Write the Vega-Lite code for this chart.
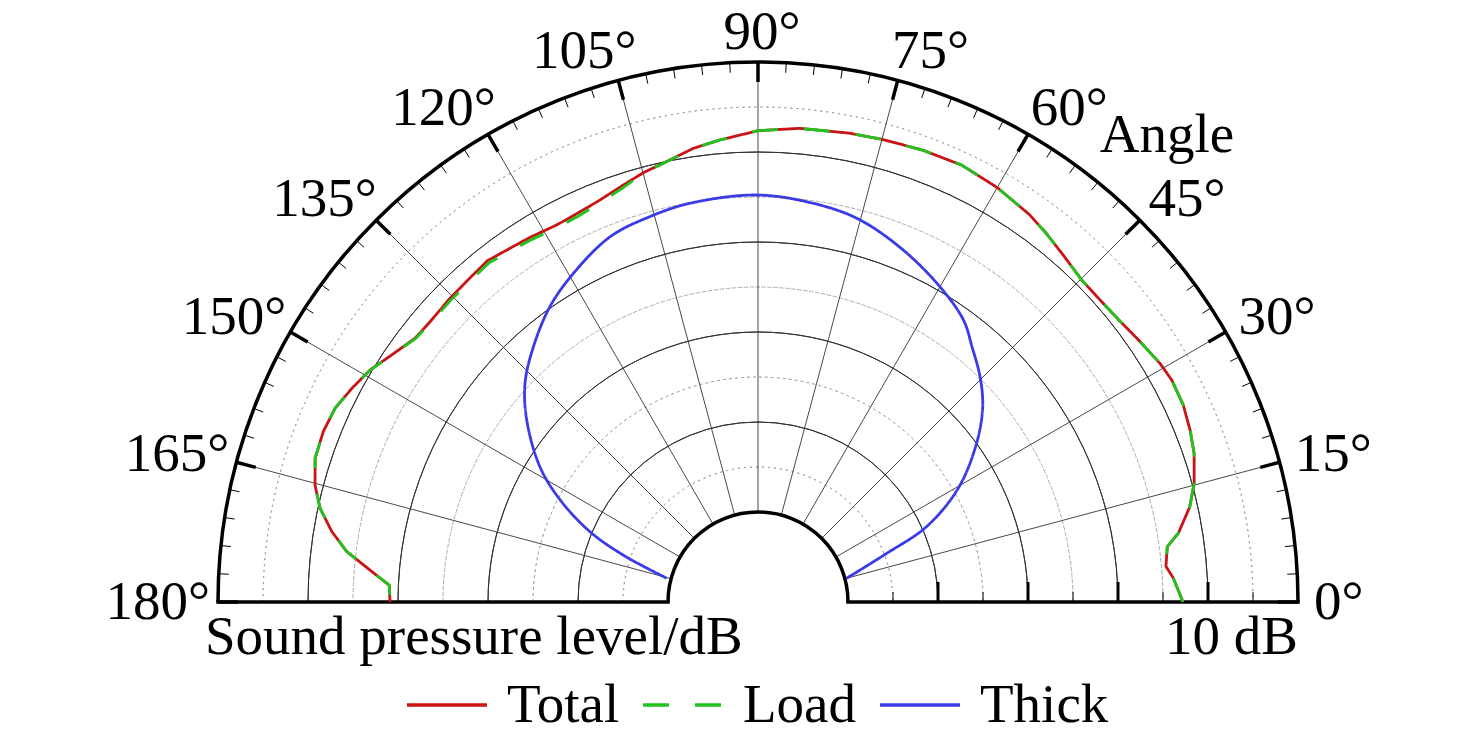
{
  "$schema": "https://vega.github.io/schema/vega-lite/v6.json",
  "width": 1476,
  "height": 737,
  "autosize": {"type": "none"},
  "padding": 0,
  "background": "white",
  "config": {"view": {"stroke": null}, "text": {"font": "'Liberation Serif', 'Times New Roman', 'DejaVu Serif', serif", "fontSize": 55, "color": "black"}},
  "datasets": {
    "angles": [
      {"angle": 0}, {"angle": 3}, {"angle": 6}, {"angle": 9}, {"angle": 12}, {"angle": 15}, {"angle": 18}, {"angle": 21}, {"angle": 24}, {"angle": 27},
      {"angle": 30}, {"angle": 33}, {"angle": 36}, {"angle": 39}, {"angle": 42}, {"angle": 45}, {"angle": 48}, {"angle": 51}, {"angle": 54}, {"angle": 57},
      {"angle": 60}, {"angle": 63}, {"angle": 66}, {"angle": 69}, {"angle": 72}, {"angle": 75}, {"angle": 78}, {"angle": 81}, {"angle": 84}, {"angle": 87},
      {"angle": 90}, {"angle": 93}, {"angle": 96}, {"angle": 99}, {"angle": 102}, {"angle": 105}, {"angle": 108}, {"angle": 111}, {"angle": 114}, {"angle": 117},
      {"angle": 120}, {"angle": 123}, {"angle": 126}, {"angle": 129}, {"angle": 132}, {"angle": 135}, {"angle": 138}, {"angle": 141}, {"angle": 144}, {"angle": 147},
      {"angle": 150}, {"angle": 153}, {"angle": 156}, {"angle": 159}, {"angle": 162}, {"angle": 165}, {"angle": 168}, {"angle": 171}, {"angle": 174}, {"angle": 177},
      {"angle": 180}
    ],
    "rings": [
      {"spl": -25}, {"spl": -20}, {"spl": -15}, {"spl": -10}, {"spl": -5}, {"spl": 0}, {"spl": 5}, {"spl": 10}, {"spl": 15}
    ],
    "curves": [
      {"series": "Total", "angle": 0, "spl": 7.22},
      {"series": "Total", "angle": 3.3, "spl": 6.22},
      {"series": "Total", "angle": 5, "spl": 5.5},
      {"series": "Total", "angle": 7.7, "spl": 5.89},
      {"series": "Total", "angle": 9.3, "spl": 7.33},
      {"series": "Total", "angle": 12.4, "spl": 9.11},
      {"series": "Total", "angle": 15.2, "spl": 10.22},
      {"series": "Total", "angle": 18.8, "spl": 11.19},
      {"series": "Total", "angle": 21.7, "spl": 11.67},
      {"series": "Total", "angle": 24.9, "spl": 12.08},
      {"series": "Total", "angle": 28.2, "spl": 12.17},
      {"series": "Total", "angle": 30.7, "spl": 11.94},
      {"series": "Total", "angle": 34.6, "spl": 11.33},
      {"series": "Total", "angle": 38, "spl": 10.89},
      {"series": "Total", "angle": 41.1, "spl": 10.71},
      {"series": "Total", "angle": 44.8, "spl": 10.73},
      {"series": "Total", "angle": 48.6, "spl": 11.33},
      {"series": "Total", "angle": 52, "spl": 12.0},
      {"series": "Total", "angle": 55, "spl": 12.56},
      {"series": "Total", "angle": 60, "spl": 13.17},
      {"series": "Total", "angle": 65, "spl": 13.56},
      {"series": "Total", "angle": 70, "spl": 13.44},
      {"series": "Total", "angle": 75, "spl": 13.22},
      {"series": "Total", "angle": 79, "spl": 13.07},
      {"series": "Total", "angle": 85, "spl": 12.83},
      {"series": "Total", "angle": 90, "spl": 12.37},
      {"series": "Total", "angle": 94.7, "spl": 11.51},
      {"series": "Total", "angle": 98.1, "spl": 10.92},
      {"series": "Total", "angle": 101.3, "spl": 10.08},
      {"series": "Total", "angle": 105, "spl": 9.36},
      {"series": "Total", "angle": 107.9, "spl": 8.69},
      {"series": "Total", "angle": 111.5, "spl": 7.99},
      {"series": "Total", "angle": 115, "spl": 7.61},
      {"series": "Total", "angle": 118.1, "spl": 7.49},
      {"series": "Total", "angle": 122, "spl": 7.78},
      {"series": "Total", "angle": 125, "spl": 8.0},
      {"series": "Total", "angle": 128.4, "spl": 8.39},
      {"series": "Total", "angle": 131.7, "spl": 8.17},
      {"series": "Total", "angle": 135.4, "spl": 8.06},
      {"series": "Total", "angle": 139.5, "spl": 7.93},
      {"series": "Total", "angle": 142.4, "spl": 8.07},
      {"series": "Total", "angle": 146, "spl": 9.09},
      {"series": "Total", "angle": 149.1, "spl": 10.22},
      {"series": "Total", "angle": 152.3, "spl": 11.0},
      {"series": "Total", "angle": 155.4, "spl": 11.69},
      {"series": "Total", "angle": 158.6, "spl": 11.88},
      {"series": "Total", "angle": 162, "spl": 11.74},
      {"series": "Total", "angle": 165.2, "spl": 10.91},
      {"series": "Total", "angle": 167.9, "spl": 9.77},
      {"series": "Total", "angle": 170.6, "spl": 8.01},
      {"series": "Total", "angle": 173, "spl": 6.04},
      {"series": "Total", "angle": 175.3, "spl": 3.26},
      {"series": "Total", "angle": 177.4, "spl": 1.01},
      {"series": "Total", "angle": 180, "spl": 0.89},
      {"series": "Load", "angle": 0, "spl": 7.22},
      {"series": "Load", "angle": 3.3, "spl": 6.22},
      {"series": "Load", "angle": 5, "spl": 5.5},
      {"series": "Load", "angle": 7.7, "spl": 5.89},
      {"series": "Load", "angle": 9.3, "spl": 7.33},
      {"series": "Load", "angle": 12.4, "spl": 9.11},
      {"series": "Load", "angle": 15.2, "spl": 10.22},
      {"series": "Load", "angle": 18.8, "spl": 11.19},
      {"series": "Load", "angle": 21.7, "spl": 11.67},
      {"series": "Load", "angle": 24.9, "spl": 12.08},
      {"series": "Load", "angle": 28.2, "spl": 12.17},
      {"series": "Load", "angle": 30.7, "spl": 11.94},
      {"series": "Load", "angle": 34.6, "spl": 11.33},
      {"series": "Load", "angle": 38, "spl": 10.89},
      {"series": "Load", "angle": 41.1, "spl": 10.71},
      {"series": "Load", "angle": 44.8, "spl": 10.73},
      {"series": "Load", "angle": 48.6, "spl": 11.33},
      {"series": "Load", "angle": 52, "spl": 12.0},
      {"series": "Load", "angle": 55, "spl": 12.56},
      {"series": "Load", "angle": 60, "spl": 13.17},
      {"series": "Load", "angle": 65, "spl": 13.56},
      {"series": "Load", "angle": 70, "spl": 13.44},
      {"series": "Load", "angle": 75, "spl": 13.22},
      {"series": "Load", "angle": 79, "spl": 13.07},
      {"series": "Load", "angle": 85, "spl": 12.83},
      {"series": "Load", "angle": 90, "spl": 12.37},
      {"series": "Load", "angle": 94.7, "spl": 11.51},
      {"series": "Load", "angle": 98.1, "spl": 10.92},
      {"series": "Load", "angle": 101.3, "spl": 10.06},
      {"series": "Load", "angle": 105, "spl": 9.3},
      {"series": "Load", "angle": 107.9, "spl": 8.45},
      {"series": "Load", "angle": 111.5, "spl": 7.7},
      {"series": "Load", "angle": 115, "spl": 7.3},
      {"series": "Load", "angle": 118.1, "spl": 7.2},
      {"series": "Load", "angle": 122, "spl": 7.48},
      {"series": "Load", "angle": 125, "spl": 7.7},
      {"series": "Load", "angle": 128.4, "spl": 8.1},
      {"series": "Load", "angle": 131.7, "spl": 7.9},
      {"series": "Load", "angle": 135.4, "spl": 7.85},
      {"series": "Load", "angle": 139.5, "spl": 7.8},
      {"series": "Load", "angle": 142.4, "spl": 8.0},
      {"series": "Load", "angle": 146, "spl": 9.05},
      {"series": "Load", "angle": 149.1, "spl": 10.2},
      {"series": "Load", "angle": 152.3, "spl": 11.0},
      {"series": "Load", "angle": 155.4, "spl": 11.69},
      {"series": "Load", "angle": 158.6, "spl": 11.88},
      {"series": "Load", "angle": 162, "spl": 11.74},
      {"series": "Load", "angle": 165.2, "spl": 10.91},
      {"series": "Load", "angle": 167.9, "spl": 9.77},
      {"series": "Load", "angle": 170.6, "spl": 8.01},
      {"series": "Load", "angle": 173, "spl": 6.04},
      {"series": "Load", "angle": 175.3, "spl": 3.26},
      {"series": "Load", "angle": 177.4, "spl": 1.01},
      {"series": "Load", "angle": 180, "spl": 0.89},
      {"series": "Thick", "angle": 15, "spl": -29.8},
      {"series": "Thick", "angle": 20.7, "spl": -24.71},
      {"series": "Thick", "angle": 24.1, "spl": -19.48},
      {"series": "Thick", "angle": 29.6, "spl": -14.41},
      {"series": "Thick", "angle": 36, "spl": -9.98},
      {"series": "Thick", "angle": 41, "spl": -6.92},
      {"series": "Thick", "angle": 45.4, "spl": -4.86},
      {"series": "Thick", "angle": 50, "spl": -3.0},
      {"series": "Thick", "angle": 53.9, "spl": -1.24},
      {"series": "Thick", "angle": 60, "spl": 0.44},
      {"series": "Thick", "angle": 67.6, "spl": 2.31},
      {"series": "Thick", "angle": 75, "spl": 3.93},
      {"series": "Thick", "angle": 81.1, "spl": 4.64},
      {"series": "Thick", "angle": 90, "spl": 5.22},
      {"series": "Thick", "angle": 99.7, "spl": 4.94},
      {"series": "Thick", "angle": 105.7, "spl": 4.47},
      {"series": "Thick", "angle": 112, "spl": 3.79},
      {"series": "Thick", "angle": 119.3, "spl": 1.89},
      {"series": "Thick", "angle": 125.2, "spl": 0.13},
      {"series": "Thick", "angle": 131.3, "spl": -2.21},
      {"series": "Thick", "angle": 136.8, "spl": -4.49},
      {"series": "Thick", "angle": 141.8, "spl": -7.3},
      {"series": "Thick", "angle": 148.2, "spl": -11.49},
      {"series": "Thick", "angle": 152.7, "spl": -15.26},
      {"series": "Thick", "angle": 157.3, "spl": -19.77},
      {"series": "Thick", "angle": 160.8, "spl": -24.14},
      {"series": "Thick", "angle": 165.4, "spl": -29.52}
    ]
  },
  "layer": [
    {
      "data": {"name": "rings"},
      "transform": [{"filter": "datum.spl % 10 != 0"}],
      "mark": {"type": "arc", "filled": false, "stroke": "#a0a0a0", "strokeWidth": 1, "strokeDash": [2, 4], "theta": -1.5708, "theta2": 1.5708},
      "encoding": {
        "x": {"datum": 0, "type": "quantitative", "scale": {"domain": [-758, 718], "nice": false, "zero": false}, "axis": null},
        "y": {"datum": 0, "type": "quantitative", "scale": {"domain": [-135, 602], "nice": false, "zero": false}, "axis": null},
        "radius": {"field": "spl", "type": "quantitative", "scale": {"type": "linear", "domain": [-40, 20], "range": [0, 540], "zero": false, "nice": false}},
        "radius2": {"field": "spl"}
      }
    },
    {
      "data": {"name": "rings"},
      "transform": [{"filter": "datum.spl % 10 == 0"}],
      "mark": {"type": "arc", "filled": false, "stroke": "#333333", "strokeWidth": 1, "theta": -1.5708, "theta2": 1.5708},
      "encoding": {
        "x": {"datum": 0, "type": "quantitative", "scale": {"domain": [-758, 718], "nice": false, "zero": false}, "axis": null},
        "y": {"datum": 0, "type": "quantitative", "scale": {"domain": [-135, 602], "nice": false, "zero": false}, "axis": null},
        "radius": {"field": "spl", "type": "quantitative", "scale": {"type": "linear", "domain": [-40, 20], "range": [0, 540], "zero": false, "nice": false}},
        "radius2": {"field": "spl"}
      }
    },
    {
      "data": {"name": "angles"},
      "transform": [
        {"filter": "datum.angle % 15 == 0 && datum.angle > 0 && datum.angle < 180"},
        {"calculate": "datum.angle * PI / 180", "as": "a"},
        {"calculate": "90 * cos(datum.a)", "as": "x1"},
        {"calculate": "90 * sin(datum.a)", "as": "y1"},
        {"calculate": "540 * cos(datum.a)", "as": "x2"},
        {"calculate": "540 * sin(datum.a)", "as": "y2"}
      ],
      "mark": {"type": "rule", "stroke": "#333333", "strokeWidth": 0.9},
      "encoding": {
        "x": {"field": "x1", "type": "quantitative", "scale": {"domain": [-758, 718], "nice": false, "zero": false}, "axis": null},
        "y": {"field": "y1", "type": "quantitative", "scale": {"domain": [-135, 602], "nice": false, "zero": false}, "axis": null},
        "x2": {"field": "x2"},
        "y2": {"field": "y2"}
      }
    },
    {
      "data": {"name": "angles"},
      "transform": [
        {"filter": "datum.angle == 0 || datum.angle == 180"},
        {"calculate": "datum.angle * PI / 180", "as": "a"},
        {"calculate": "90 * cos(datum.a)", "as": "x1"},
        {"calculate": "540 * cos(datum.a)", "as": "x2"},
        {"calculate": "0", "as": "y1"}
      ],
      "mark": {"type": "rule", "stroke": "black", "strokeWidth": 3.5, "strokeCap": "square"},
      "encoding": {
        "x": {"field": "x1", "type": "quantitative", "scale": {"domain": [-758, 718], "nice": false, "zero": false}, "axis": null},
        "y": {"field": "y1", "type": "quantitative", "scale": {"domain": [-135, 602], "nice": false, "zero": false}, "axis": null},
        "x2": {"field": "x2"}
      }
    },
    {
      "data": {"values": [{"edge": "outer", "spl": 20}, {"edge": "inner", "spl": -30}]},
      "mark": {"type": "arc", "filled": false, "stroke": "black", "strokeWidth": 3.5, "theta": -1.5708, "theta2": 1.5708},
      "encoding": {
        "x": {"datum": 0, "type": "quantitative", "scale": {"domain": [-758, 718], "nice": false, "zero": false}, "axis": null},
        "y": {"datum": 0, "type": "quantitative", "scale": {"domain": [-135, 602], "nice": false, "zero": false}, "axis": null},
        "radius": {"field": "spl", "type": "quantitative", "scale": {"type": "linear", "domain": [-40, 20], "range": [0, 540], "zero": false, "nice": false}},
        "radius2": {"field": "spl"}
      }
    },
    {
      "data": {"name": "angles"},
      "transform": [
        {"calculate": "datum.angle * PI / 180", "as": "a"},
        {"calculate": "datum.angle % 15 == 0 ? 520 : 530", "as": "rin"},
        {"calculate": "datum.rin * cos(datum.a)", "as": "x1"},
        {"calculate": "datum.rin * sin(datum.a)", "as": "y1"},
        {"calculate": "540 * cos(datum.a)", "as": "x2"},
        {"calculate": "540 * sin(datum.a)", "as": "y2"}
      ],
      "mark": {"type": "rule", "stroke": "black"},
      "encoding": {
        "x": {"field": "x1", "type": "quantitative", "scale": {"domain": [-758, 718], "nice": false, "zero": false}, "axis": null},
        "y": {"field": "y1", "type": "quantitative", "scale": {"domain": [-135, 602], "nice": false, "zero": false}, "axis": null},
        "x2": {"field": "x2"},
        "y2": {"field": "y2"},
        "strokeWidth": {"condition": {"test": "datum.angle % 15 == 0", "value": 3.5}, "value": 1}
      }
    },
    {
      "data": {"name": "rings"},
      "transform": [
        {"calculate": "9 * datum.spl + 360", "as": "x1"},
        {"calculate": "0", "as": "y1"},
        {"calculate": "datum.spl % 10 == 0 ? 20 : 10", "as": "y2"}
      ],
      "mark": {"type": "rule", "stroke": "black"},
      "encoding": {
        "x": {"field": "x1", "type": "quantitative", "scale": {"domain": [-758, 718], "nice": false, "zero": false}, "axis": null},
        "y": {"field": "y1", "type": "quantitative", "scale": {"domain": [-135, 602], "nice": false, "zero": false}, "axis": null},
        "y2": {"field": "y2"},
        "strokeWidth": {"condition": {"test": "datum.spl % 10 == 0", "value": 3}, "value": 1}
      }
    },
    {
      "data": {"name": "curves"},
      "transform": [
        {"calculate": "(9 * datum.spl + 360) * cos(datum.angle * PI / 180)", "as": "px"},
        {"calculate": "(9 * datum.spl + 360) * sin(datum.angle * PI / 180)", "as": "py"}
      ],
      "encoding": {
        "x": {"field": "px", "type": "quantitative", "scale": {"domain": [-758, 718], "nice": false, "zero": false}, "axis": null},
        "y": {"field": "py", "type": "quantitative", "scale": {"domain": [-135, 602], "nice": false, "zero": false}, "axis": null},
        "order": {"field": "angle", "type": "quantitative"},
        "color": {
          "field": "series", "type": "nominal",
          "scale": {"domain": ["Total", "Load", "Thick"], "range": ["#c81414", "#1fc41f", "#3b3be6"]},
          "legend": {"title": null, "orient": "none", "legendX": 405, "legendY": 663, "direction": "horizontal", "symbolType": "stroke", "symbolSize": 6400, "symbolStrokeWidth": 3.5, "labelFont": "'Liberation Serif', 'Times New Roman', 'DejaVu Serif', serif", "labelFontSize": 55, "labelColor": "black", "labelOffset": 18, "columnPadding": 16, "labelLimit": 0, "padding": 0}
        },
        "strokeDash": {
          "field": "series", "type": "nominal",
          "scale": {"domain": ["Total", "Load", "Thick"], "range": [[1, 0], [26, 26], [1, 0]]},
          "legend": {"title": null, "orient": "none", "legendX": 405, "legendY": 663, "direction": "horizontal", "symbolType": "stroke", "symbolSize": 6400, "symbolStrokeWidth": 3.5, "labelFont": "'Liberation Serif', 'Times New Roman', 'DejaVu Serif', serif", "labelFontSize": 55, "labelColor": "black", "labelOffset": 18, "columnPadding": 16, "labelLimit": 0, "padding": 0}
        }
      },
      "layer": [
        {"transform": [{"filter": "datum.series == 'Total'"}], "mark": {"type": "line", "strokeWidth": 2.8}},
        {"transform": [{"filter": "datum.series == 'Load'"}], "mark": {"type": "line", "strokeWidth": 2.8}},
        {"transform": [{"filter": "datum.series == 'Thick'"}], "mark": {"type": "line", "strokeWidth": 2.8, "interpolate": "catmull-rom"}}
      ]
    },
    {
      "data": {"name": "angles"},
      "transform": [
        {"filter": "datum.angle % 15 == 0"},
        {"calculate": "datum.angle + '°'", "as": "label"},
        {"calculate": "datum.angle * PI / 180", "as": "a"},
        {"calculate": "27.5 * (length(datum.label) - 1) + 22", "as": "w"},
        {"calculate": "552 * cos(datum.a) + (cos(datum.a) >= 0 ? 1 : -1) * datum.w / 2 * pow(abs(cos(datum.a)), 0.3) + 4", "as": "lx"},
        {"calculate": "570 * sin(datum.a)", "as": "ly"}
      ],
      "mark": {"type": "text", "align": "center", "baseline": "middle"},
      "encoding": {
        "x": {"field": "lx", "type": "quantitative", "scale": {"domain": [-758, 718], "nice": false, "zero": false}, "axis": null},
        "y": {"field": "ly", "type": "quantitative", "scale": {"domain": [-135, 602], "nice": false, "zero": false}, "axis": null},
        "text": {"field": "label"}
      }
    },
    {
      "data": {"values": [{"note": "Sound pressure level/dB", "angle": 180, "spl": 20}]},
      "transform": [
        {"calculate": "(9 * datum.spl + 360) * cos(datum.angle * PI / 180)", "as": "px"},
        {"calculate": "(9 * datum.spl + 360) * sin(datum.angle * PI / 180)", "as": "py"}
      ],
      "mark": {"type": "text", "align": "left", "baseline": "alphabetic", "dx": -13, "dy": 52},
      "encoding": {
        "x": {"field": "px", "type": "quantitative", "scale": {"domain": [-758, 718], "nice": false, "zero": false}, "axis": null},
        "y": {"field": "py", "type": "quantitative", "scale": {"domain": [-135, 602], "nice": false, "zero": false}, "axis": null},
        "text": {"field": "note"}
      }
    },
    {
      "data": {"values": [{"note": "10 dB", "angle": 0, "spl": 20}]},
      "transform": [
        {"calculate": "(9 * datum.spl + 360) * cos(datum.angle * PI / 180)", "as": "px"},
        {"calculate": "(9 * datum.spl + 360) * sin(datum.angle * PI / 180)", "as": "py"}
      ],
      "mark": {"type": "text", "align": "right", "baseline": "alphabetic", "dy": 52},
      "encoding": {
        "x": {"field": "px", "type": "quantitative", "scale": {"domain": [-758, 718], "nice": false, "zero": false}, "axis": null},
        "y": {"field": "py", "type": "quantitative", "scale": {"domain": [-135, 602], "nice": false, "zero": false}, "axis": null},
        "text": {"field": "note"}
      }
    },
    {
      "data": {"values": [{"note": "Angle", "angle": 52.8, "spl": 22.8}]},
      "transform": [
        {"calculate": "(9 * datum.spl + 360) * cos(datum.angle * PI / 180)", "as": "px"},
        {"calculate": "(9 * datum.spl + 360) * sin(datum.angle * PI / 180)", "as": "py"}
      ],
      "mark": {"type": "text", "align": "left", "baseline": "alphabetic"},
      "encoding": {
        "x": {"field": "px", "type": "quantitative", "scale": {"domain": [-758, 718], "nice": false, "zero": false}, "axis": null},
        "y": {"field": "py", "type": "quantitative", "scale": {"domain": [-135, 602], "nice": false, "zero": false}, "axis": null},
        "text": {"field": "note"}
      }
    }
  ]
}
